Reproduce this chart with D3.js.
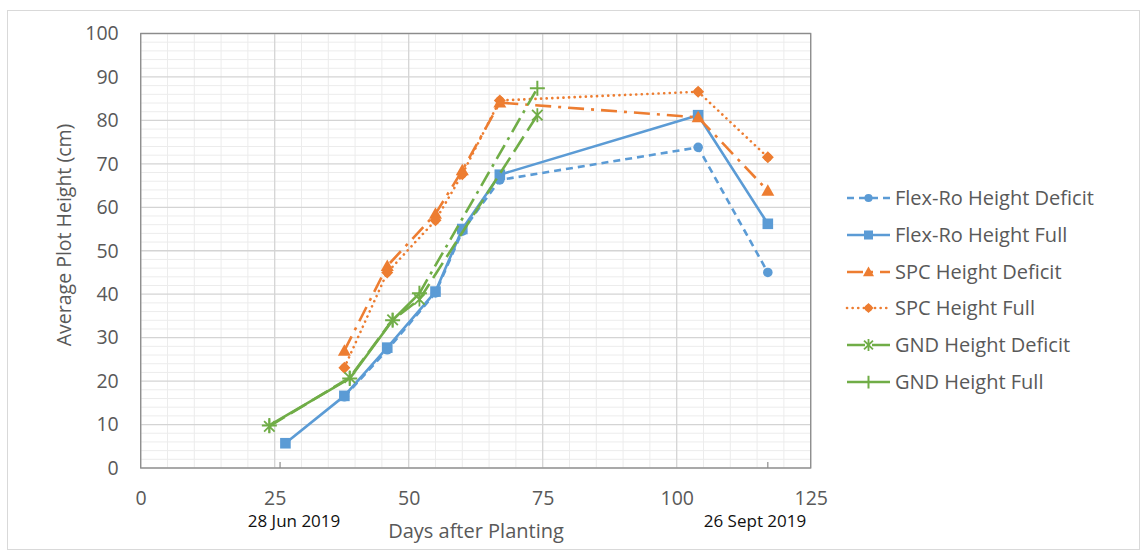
<!DOCTYPE html>
<html>
<head>
<meta charset="utf-8">
<script src="https://cdn.jsdelivr.net/npm/d3@7/dist/d3.min.js"></script>
<style>
  html, body { margin: 0; padding: 0; background: #fff; }
  svg { display: block; }
  text { font-family: "Open Sans", "Noto Sans", sans-serif; }
</style>
</head>
<body>
<svg id="chart" width="1148" height="556"></svg>
<script>
// Plot height over the season (days after planting)
const flexDays    = [27, 38, 46, 55, 60, 67, 104, 117];
const flexFull    = [5.7, 16.6, 27.7, 40.6, 55.0, 67.5, 81.2, 56.2];
const flexDefDays = [38, 46, 55, 60, 67, 104, 117];
const flexDef     = [16.4, 27.2, 40.3, 54.5, 66.3, 73.8, 45.0];
const spcDays     = [38, 46, 55, 60, 67, 104, 117];
const spcDef      = [27.0, 46.5, 58.5, 68.5, 84.1, 80.7, 63.8];
const spcFull     = [23.1, 45.0, 57.0, 67.6, 84.6, 86.6, 71.5];
const gndDays     = [24, 39, 47, 52, 74];
const gndDef      = [9.6, 20.8, 34.1, 38.8, 81.2];
const gndFull     = [9.8, 20.6, 34.0, 40.2, 87.4];

const xTicks = [0, 25, 50, 75, 100, 125];
const yTicks = [0, 10, 20, 30, 40, 50, 60, 70, 80, 90, 100];
const dateMarks = [
  { day: 26, label: "28 Jun 2019", labelX: 294 },
  { day: 117, label: "26 Sept 2019", labelX: 755 }
];

const BLUE = "#5B9BD5", ORANGE = "#ED7D31", GREEN = "#70AD47";

const zip = (xs, ys) => xs.map((d, i) => ({ x: d, y: ys[i] }));

const series = [
  { name: "Flex-Ro Height Deficit", color: BLUE, dash: "7,5", marker: "circle", pts: zip(flexDefDays, flexDef) },
  { name: "Flex-Ro Height Full", color: BLUE, dash: null, marker: "square", pts: zip(flexDays, flexFull) },
  { name: "SPC Height Deficit", color: ORANGE, dash: "16,7,3,7", marker: "triangle", pts: zip(spcDays, spcDef) },
  { name: "SPC Height Full", color: ORANGE, dash: "0.1,5.5", cap: "round", marker: "diamond", pts: zip(spcDays, spcFull) },
  { name: "GND Height Deficit", color: GREEN, dash: "18,7", marker: "star", pts: zip(gndDays, gndDef) },
  // the closing segment of this series is drawn long-dash-dot
  { name: "GND Height Full", color: GREEN, dash: null, marker: "plus", pts: zip(gndDays, gndFull), tailFrom: 3, tailDash: "16,6,3,6" }
];

const svg = d3.select("#chart");
const x = d3.scaleLinear().domain([0, 125]).range([140.7, 810.7]);
const y = d3.scaleLinear().domain([0, 100]).range([468, 33.5]);

// outer chart frame
svg.append("rect").attr("x", 7.5).attr("y", 10.5).attr("width", 1132).attr("height", 539)
  .attr("fill", "#fff").attr("stroke", "#d9d9d9").attr("stroke-width", 1);

// gridlines: minor every 5 days / 2 cm, major every 25 days / 10 cm
const minorG = svg.append("g"), majorG = svg.append("g");
d3.range(0, 125.01, 5).forEach(d => {
  const major = d % 25 === 0;
  (major ? majorG : minorG).append("line").attr("x1", x(d)).attr("x2", x(d)).attr("y1", y(0)).attr("y2", y(100))
    .attr("stroke", major ? "#d4d4d4" : "#ececec").attr("stroke-width", major ? 1.3 : 1);
});
d3.range(0, 100.01, 2).forEach(d => {
  const major = d % 10 === 0;
  (major ? majorG : minorG).append("line").attr("x1", x(0)).attr("x2", x(125)).attr("y1", y(d)).attr("y2", y(d))
    .attr("stroke", major ? "#d4d4d4" : "#ececec").attr("stroke-width", major ? 1.3 : 1);
});

// plot border
svg.append("rect").attr("x", x(0)).attr("y", y(100)).attr("width", x(125) - x(0)).attr("height", y(0) - y(100))
  .attr("fill", "none").attr("stroke", "#8c8c8c").attr("stroke-width", 1.3);

// date tick marks along the bottom axis
dateMarks.forEach(m => {
  svg.append("line").attr("x1", x(m.day)).attr("x2", x(m.day)).attr("y1", y(0)).attr("y2", y(0) - 6)
    .attr("stroke", "#8c8c8c").attr("stroke-width", 1.2);
});

// axes
const xAxis = svg.append("g").attr("transform", `translate(0,${y(0)})`)
  .call(d3.axisBottom(x).tickValues(xTicks).tickSize(0).tickPadding(23).tickFormat(d3.format("d")));
xAxis.select(".domain").remove();
xAxis.selectAll("text").attr("font-size", 19.5).attr("fill", "#595959").attr("font-family", "'Open Sans', sans-serif");

const yAxis = svg.append("g").attr("transform", `translate(${x(0)},0)`)
  .call(d3.axisLeft(y).tickValues(yTicks).tickSize(0).tickPadding(22).tickFormat(d3.format("d")));
yAxis.select(".domain").remove();
yAxis.selectAll("text").attr("font-size", 19.5).attr("fill", "#595959").attr("font-family", "'Open Sans', sans-serif");

// axis titles
svg.append("text").attr("x", 476).attr("y", 538).attr("text-anchor", "middle")
  .attr("font-size", 20).attr("fill", "#595959").text("Days after Planting");
svg.append("text").attr("transform", "translate(71,235) rotate(-90)").attr("text-anchor", "middle")
  .attr("font-size", 19.5).attr("fill", "#595959").text("Average Plot Height (cm)");

// date labels
dateMarks.forEach(m => {
  svg.append("text").attr("x", m.labelX).attr("y", 527).attr("text-anchor", "middle")
    .attr("font-family", "'Liberation Sans Narrow', 'Arial Narrow', sans-serif")
    .attr("font-size", 17).attr("fill", "#111").text(m.label);
});

// marker drawing
function drawMarker(g, type, color, cx, cy, scale = 1) {
  const s = scale;
  switch (type) {
    case "circle":
      g.append("circle").attr("cx", cx).attr("cy", cy).attr("r", 4.8 * s).attr("fill", color);
      break;
    case "square":
      g.append("rect").attr("x", cx - 5.3 * s).attr("y", cy - 5.3 * s).attr("width", 10.6 * s).attr("height", 10.6 * s).attr("fill", color);
      break;
    case "triangle":
      g.append("path").attr("d", `M${cx},${cy - 6.5 * s}L${cx + 6.5 * s},${cy + 5 * s}L${cx - 6.5 * s},${cy + 5 * s}Z`).attr("fill", color);
      break;
    case "diamond":
      g.append("path").attr("d", `M${cx},${cy - 6 * s}L${cx + 6 * s},${cy}L${cx},${cy + 6 * s}L${cx - 6 * s},${cy}Z`).attr("fill", color);
      g.append("circle").attr("cx", cx).attr("cy", cy).attr("r", 4.2 * s).attr("fill", color);
      break;
    case "star": {
      const r = 7 * s, d = r * 0.75;
      g.append("path").attr("d", `M${cx},${cy - r}L${cx},${cy + r}M${cx - d},${cy - d}L${cx + d},${cy + d}M${cx - d},${cy + d}L${cx + d},${cy - d}`)
        .attr("stroke", color).attr("stroke-width", 1.8).attr("fill", "none");
      break;
    }
    case "plus": {
      const r = 7.5 * s;
      g.append("path").attr("d", `M${cx},${cy - r}L${cx},${cy + r}M${cx - r},${cy}L${cx + r},${cy}`)
        .attr("stroke", color).attr("stroke-width", 2).attr("fill", "none");
      break;
    }
  }
}

const line = d3.line().x(d => x(d.x)).y(d => y(d.y));
const plot = svg.append("g");

series.forEach(s => {
  const g = plot.append("g");
  const head = s.tailFrom != null ? s.pts.slice(0, s.tailFrom + 1) : s.pts;
  g.append("path").attr("d", line(head)).attr("fill", "none").attr("stroke", s.color)
    .attr("stroke-width", 2.6).attr("stroke-dasharray", s.dash).attr("stroke-linecap", s.cap || "butt")
    .attr("stroke-linejoin", "round");
  if (s.tailFrom != null) {
    g.append("path").attr("d", line(s.pts.slice(s.tailFrom))).attr("fill", "none").attr("stroke", s.color)
      .attr("stroke-width", 2.6).attr("stroke-dasharray", s.tailDash);
  }
  s.pts.forEach(p => drawMarker(g, s.marker, s.color, x(p.x), y(p.y)));
});

// legend
const legendY = [198, 235, 272, 308, 345, 382];
const legend = svg.append("g");
series.forEach((s, i) => {
  const ly = legendY[i];
  legend.append("line").attr("x1", 847).attr("x2", 890).attr("y1", ly).attr("y2", ly)
    .attr("stroke", s.color).attr("stroke-width", 2.6)
    .attr("stroke-dasharray", s.dash).attr("stroke-linecap", s.cap || "butt");
  drawMarker(legend, s.marker, s.color, 868.5, ly, 0.85);
  legend.append("text").attr("x", 895).attr("y", ly).attr("dy", "0.35em")
    .attr("font-size", 20).attr("fill", "#595959").text(s.name);
});
</script>
</body>
</html>
